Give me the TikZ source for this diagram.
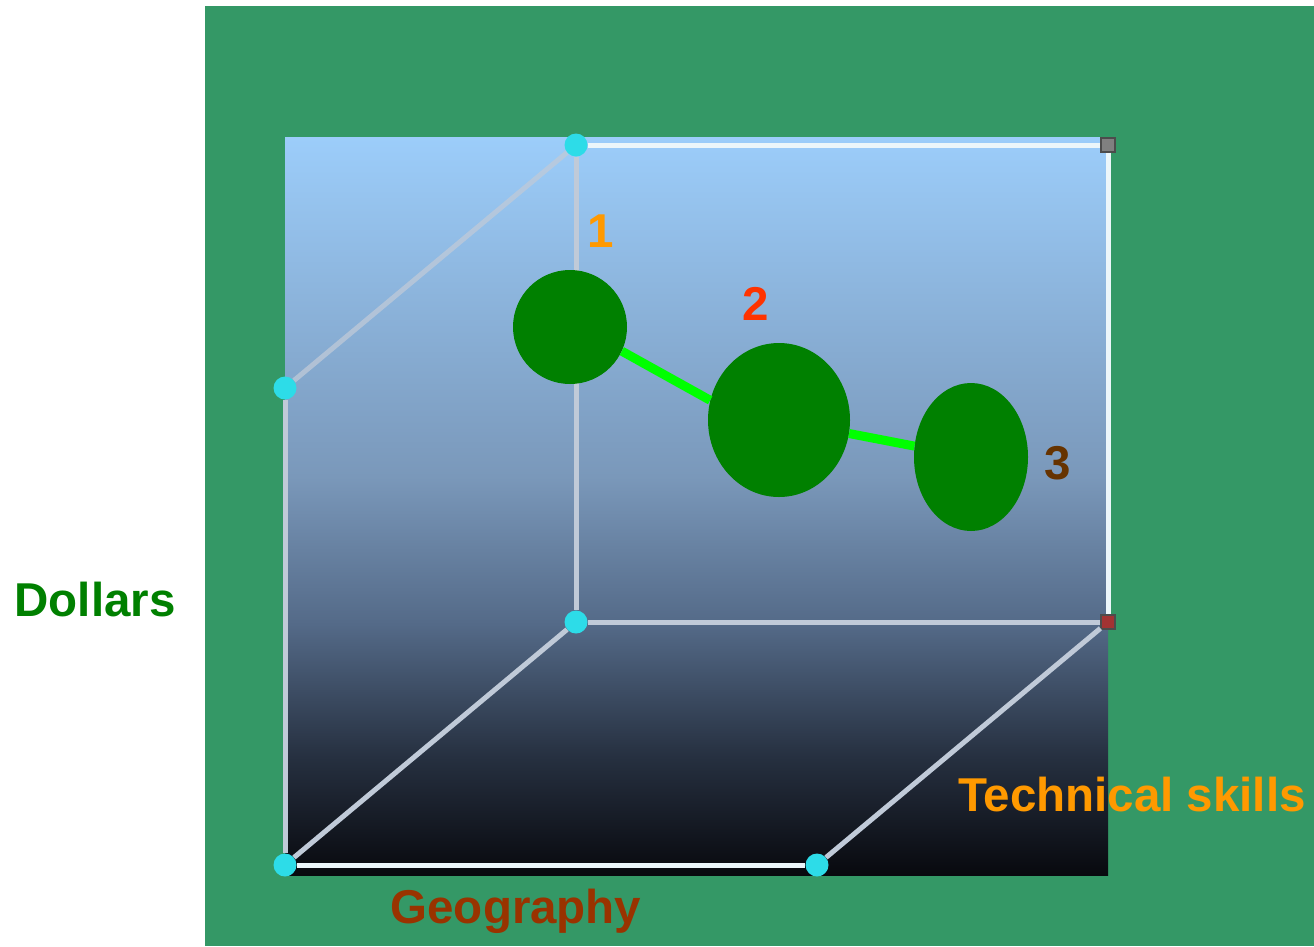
\documentclass[tikz,border=0pt]{standalone}
\usepackage{fontspec}
\setmainfont{Liberation Sans}
\usetikzlibrary{shapes.geometric}

\definecolor{boardgreen}{RGB}{52,152,102}
\definecolor{blobgreen}{RGB}{0,128,0}
\definecolor{linkgreen}{RGB}{0,255,0}
\definecolor{dotcyan}{RGB}{45,220,232}
\definecolor{edgepale}{RGB}{192,202,216}
\definecolor{edgewhite}{RGB}{236,246,250}
\definecolor{labdollar}{RGB}{0,128,0}
\definecolor{labtech}{RGB}{255,153,0}
\definecolor{labgeo}{RGB}{153,51,0}
\definecolor{labtwo}{RGB}{255,51,0}
\definecolor{labthree}{RGB}{102,51,0}

\pgfdeclareverticalshading{cubesky}{100bp}{%
  color(0bp)=(rgb,255:red,8;green,9;blue,14);
  color(25bp)=(rgb,255:red,8;green,9;blue,14);
  color(33bp)=(rgb,255:red,38;green,48;blue,64);
  color(42bp)=(rgb,255:red,84;green,106;blue,136);
  color(52bp)=(rgb,255:red,122;green,152;blue,186);
  color(75bp)=(rgb,255:red,156;green,205;blue,250);
  color(100bp)=(rgb,255:red,156;green,205;blue,250)}

\begin{document}
\begin{tikzpicture}[
  x=1pt,y=-1pt,
  corner/.style={circle,fill=dotcyan,minimum size=23pt,inner sep=0pt},
  knot/.style={rectangle,minimum size=14pt,inner sep=0pt,draw=black!70,line width=1.2pt},
  rib/.style={line width=5pt,draw=edgepale},
  ribwhite/.style={line width=5pt,draw=edgewhite},
  blob/.style={ellipse,fill=blobgreen,inner sep=0pt},
  link/.style={line width=9pt,draw=linkgreen},
  tag/.style={font=\fontsize{47.5}{50}\selectfont\bfseries,inner sep=0pt,anchor=base}
]
  \useasboundingbox (0,0) rectangle (1314,946);
  \fill[boardgreen] (205,6) rectangle (1314,946);
  \shade[shading=cubesky] (285,137) rectangle (1108,875);

  % cube corners
  \node[corner] (BTL) at (576,145) {};
  \node[corner] (BBL) at (576,622) {};
  \node[knot,fill=black!50] (BTR) at (1108,145) {};
  \node[knot,fill=red!55!black!80] (BBR) at (1108,622) {};
  \node[corner] (FTL) at (285,388) {};
  \node[corner] (FBL) at (285,865) {};
  \node[corner] (FBR) at (817,865) {};

  % cube edges
  \draw[rib,draw opacity=.75] (FTL) -- (BTL);
  \draw[rib] (BTL) -- (BBL);
  \draw[ribwhite] (BTL) -- (BTR);
  \draw[ribwhite] (BTR) -- (BBR);
  \draw[rib] (BBL) -- (BBR);
  \draw[rib] (FTL) -- (FBL);
  \draw[ribwhite] (FBL) -- (FBR);
  \draw[rib] (FBL) -- (BBL);
  \draw[rib] (FBR) -- (BBR);

  % points
  \node[blob,minimum width=114pt,minimum height=114pt] (P1) at (570,327) {};
  \node[blob,minimum width=142pt,minimum height=154pt] (P2) at (779,420) {};
  \node[blob,minimum width=114pt,minimum height=148pt] (P3) at (971,457) {};
  \draw[link] (P1.-25) -- (P2.164);
  \draw[link] (P2) -- (P3);

  \node[tag,text=labtech] (N1) at (601,247) {1};
  \node[tag,text=labtwo] (N2) at (756,320) {2};
  \node[tag,text=labthree] (N3) at (1058,479) {3};

  % axis names
  \node[tag,text=labdollar] (AxD) at (95,616) {Dollars};
  \node[tag,text=labtech] (AxT) at (1132,811) {Technical skills};
  \node[tag,text=labgeo] (AxG) at (516,923) {Geography};
\end{tikzpicture}
\end{document}
